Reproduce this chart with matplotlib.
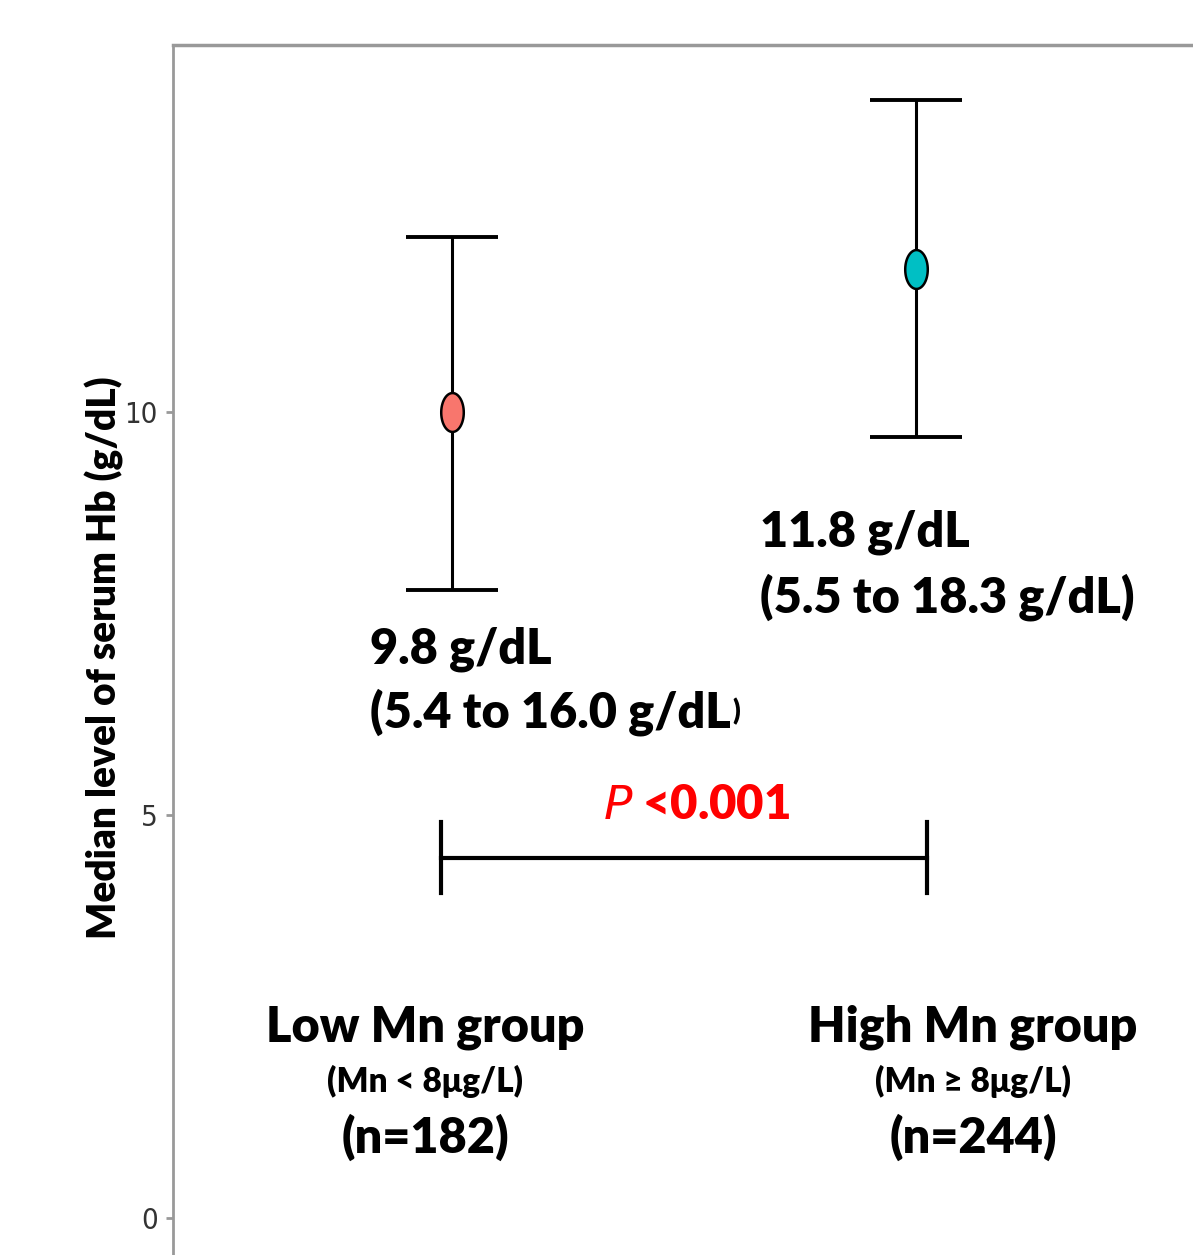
import matplotlib.pyplot as plt
import numpy as np
from matplotlib.path import Path

# Data for the graph
groups = [1, 2]
medians = [10.0, 11.77]
lower = [7.79, 9.69]
upper = [12.17, 13.87]
colors = ['#F8766D', '#00BFC4']
value_labels = ['9.8 g/dL', '11.8 g/dL']
range_labels = ['(5.4 to 16.0 g/dL', '(5.5 to 18.3 g/dL)']
group_names = ['Low Mn group', 'High Mn group']
group_rules = ['(Mn < 8μg/L)', '(Mn ≥ 8μg/L)']
group_counts = ['(n=182)', '(n=244)']
p_text = '<0.001'

bold = ['Lato', 'DejaVu Sans']
W = 'heavy'

fig = plt.figure(figsize=(11.93, 12.55), dpi=100)
ax = fig.add_axes([0.145, 0.0, 0.855, 0.9641])
ax.set_xlim(0.3987, 2.597)
ax.set_ylim(-0.46, 14.55)

# elliptical marker, taller than wide
t = np.linspace(0, 2 * np.pi, 60)
ellipse = Path(np.column_stack([0.58 * np.cos(t), np.sin(t)]), closed=True)

for x, m, lo, hi, c in zip(groups, medians, lower, upper, colors):
    ax.errorbar(x, m, yerr=[[m - lo], [hi - m]], fmt='none', ecolor='black',
                elinewidth=2.2, capsize=33, capthick=2.8, zorder=2)
    ax.plot(x, m, marker=ellipse, markersize=28, markerfacecolor=c,
            markeredgecolor='black', markeredgewidth=1.8, linestyle='none', zorder=3)

# value labels
ax.text(0.823, 7.05, value_labels[0], fontsize=35, fontweight=W, family=bold,
        ha='left', va='center')
t2 = ax.text(0.823, 6.28, range_labels[0], fontsize=35, fontweight=W, family=bold,
             ha='left', va='center')
ax.annotate(')', xy=(1, 0.5), xycoords=t2, xytext=(1, 0), textcoords='offset points',
            fontsize=20, fontweight=W, family=bold, ha='left', va='center')
ax.text(1.664, 8.50, value_labels[1], fontsize=35, fontweight=W, family=bold,
        ha='left', va='center')
ax.text(1.664, 7.70, range_labels[1], fontsize=35, fontweight=W, family=bold,
        ha='left', va='center')

# significance bracket
ax.plot([0.976, 2.024], [4.47, 4.47], color='black', linewidth=3)
ax.plot([0.976, 0.976], [4.03, 4.91], color='black', linewidth=3)
ax.plot([2.024, 2.024], [4.03, 4.91], color='black', linewidth=3)
ax.text(1.528, 5.12, r'$\mathbf{\mathit{P}}$ ' + p_text, fontsize=34, fontweight=W,
        family=bold, color='red', ha='center', va='center')

# group labels
for cx, name, rule, n in zip([0.942, 2.123], group_names, group_rules, group_counts):
    ax.text(cx, 2.36, name, fontsize=35, fontweight=W, family=bold, ha='center', va='center')
    ax.text(cx, 1.69, rule, fontsize=24, fontweight=W, family=bold, ha='center', va='center')
    ax.text(cx, 1.00, n, fontsize=35, fontweight=W, family=bold, ha='center', va='center')

ax.set_yticks([0, 5, 10])
ax.set_xticks([])
ax.tick_params(axis='y', length=5, width=2, color='#999999', labelsize=21,
               labelcolor='#333333', pad=6)
for lab in ax.get_yticklabels():
    lab.set_family(['DejaVu Sans'])
    lab.set_fontstretch('condensed')
ax.set_ylabel('Median level of serum Hb (g/dL)', fontsize=28, fontweight=W, family=bold)
ax.yaxis.set_label_coords(-0.048, 0.494)
ax.spines['right'].set_visible(False)
ax.spines['bottom'].set_visible(False)
ax.spines['left'].set_color('#999999')
ax.spines['top'].set_color('#999999')
ax.spines['left'].set_linewidth(2)
ax.spines['top'].set_linewidth(2.5)

fig.savefig('out.png', dpi=100)
